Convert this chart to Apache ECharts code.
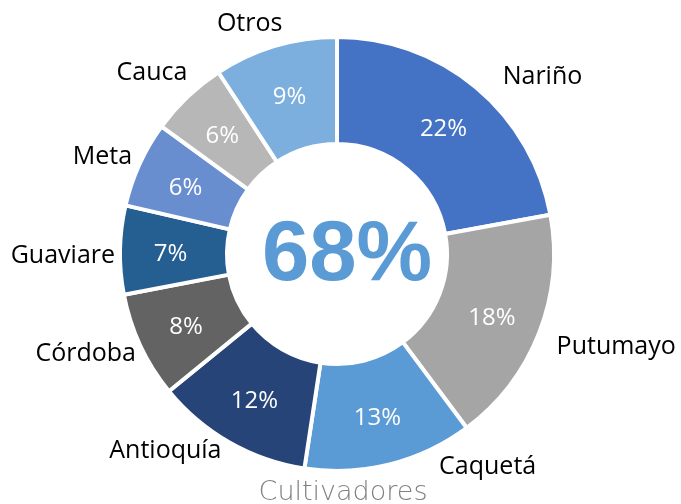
<!DOCTYPE html>
<html>
<head>
<meta charset="utf-8">
<script src="https://cdn.jsdelivr.net/npm/echarts@6/dist/echarts.min.js"></script>
<style>
  html, body { margin: 0; padding: 0; background: #fff; }
  #chart { width: 681px; height: 504px; }
</style>
</head>
<body>
<div id="chart"></div>
<script>
const regions = ['Nariño', 'Putumayo', 'Caquetá', 'Antioquía', 'Córdoba', 'Guaviare', 'Meta', 'Cauca', 'Otros']
// shares (labels show them rounded)
const shares = [22.1, 17.7, 12.6, 11.7, 7.9, 6.6, 6.4, 5.8, 9.2]
const colors = ['#4472C4', '#A5A5A5', '#5B9BD5', '#264478', '#636363', '#255E91', '#698ED0', '#B7B7B7', '#7CAFDD']
const centerValue = '68%'
const caption = 'Cultivadores'

const font = '"Open Sans", "Liberation Sans", sans-serif'
const pieData = regions.map((name, i) => ({ name, value: shares[i], itemStyle: { color: colors[i] } }))
const center = [337, 254]
const radius = [110, 217]
// Excel placed the category names by hand-ish "best fit", nudge ours to match
const nameNudge = {
  'Nariño': [18, -6], 'Putumayo': [7, 11], 'Caquetá': [43, -3], 'Antioquía': [0, 3], 'Córdoba': [6, 6],
  'Guaviare': [6, 6], 'Meta': [3, -5], 'Cauca': [9, -20], 'Otros': [14, -16],
}

const chart = echarts.init(document.getElementById('chart'), null, { renderer: 'canvas' })
chart.setOption({
  animation: false,
  title: [
    {
      text: centerValue, left: 342, top: 252, textAlign: 'center', textVerticalAlign: 'middle',
      textStyle: { fontFamily: '"Liberation Sans", Arial, sans-serif', fontWeight: 'bold', fontSize: 85, color: '#5B9BD5' },
    },
    {
      text: caption, left: 338, top: 474, textAlign: 'center',
      textStyle: { fontFamily: '"DejaVu Sans", sans-serif', fontWeight: 300, fontSize: 27, color: '#808080' },
    },
  ],
  series: [
    {
      type: 'pie', center, radius, startAngle: 90, clockwise: true,
      data: pieData,
      itemStyle: { borderColor: '#fff', borderWidth: 4 },
      label: {
        show: true, position: 'inside', color: '#fff', fontSize: 24, fontFamily: font,
        formatter: (p) => `${Math.round(p.value)}%`,
      },
      labelLine: { show: false },
      labelLayout: () => ({ dy: 3 }),
      emphasis: { disabled: true },
    },
    {
      type: 'pie', center, radius, startAngle: 90, clockwise: true, silent: true,
      data: pieData.map((d) => ({ name: d.name, value: d.value })),
      itemStyle: { color: 'rgba(0,0,0,0)' },
      label: { show: true, position: 'outside', formatter: '{b}', color: '#000', fontSize: 25, fontFamily: font, alignTo: 'none' },
      labelLine: { show: false, length: 6, length2: 0 },
      labelLayout(params) {
        const [dx, dy] = nameNudge[regions[params.dataIndex]] || [0, 0]
        return { dx, dy }
      },
      avoidLabelOverlap: false,
      emphasis: { disabled: true },
    },
  ],
})
</script>
</body>
</html>
